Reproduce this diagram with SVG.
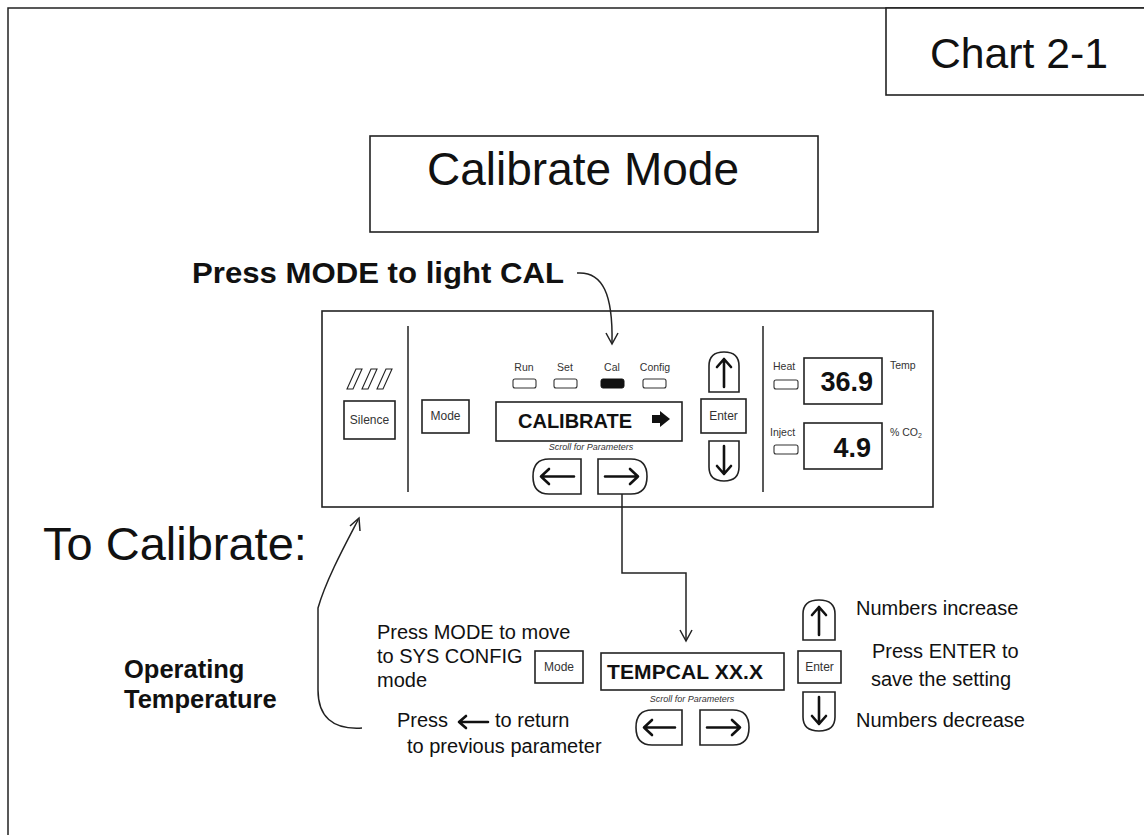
<svg xmlns="http://www.w3.org/2000/svg" width="1144" height="835" viewBox="0 0 1144 835">
<style>
  .ln{fill:none;stroke:#222;stroke-width:1.5}
  .bx{fill:#fff;stroke:#222;stroke-width:1.6}
  .thin{fill:none;stroke:#222;stroke-width:1.1}
  .arw{fill:none;stroke:#111;stroke-width:2.6;stroke-linecap:round;stroke-linejoin:round}
  .led{fill:#fff;stroke:#333;stroke-width:1.1}
  text{font-family:"Liberation Sans",Arial,sans-serif;fill:#111}
  .b{font-weight:bold}
  .sm{font-size:10.5px;fill:#333}
  .btn{font-size:12px;fill:#333;text-anchor:middle}
  .scr{font-size:9px;font-style:italic;text-anchor:middle;fill:#333}
  .note{font-size:20px}
</style>
<rect width="1144" height="835" fill="#fff"/>
<g id="frame">
  <path class="ln" d="M8,835 V8 H1144"/>
</g>
<g id="chart-label">
  <rect class="bx" x="886" y="8" width="262" height="87"/>
  <text x="1019" y="68" font-size="42" text-anchor="middle" textLength="178" lengthAdjust="spacingAndGlyphs">Chart 2-1</text>
</g>
<g id="title">
  <rect class="bx" x="370" y="136" width="448" height="96"/>
  <text x="583" y="185" font-size="46" text-anchor="middle">Calibrate Mode</text>
</g>
<g id="press-mode-label">
  <text class="b" x="192" y="283" font-size="30" textLength="372" lengthAdjust="spacingAndGlyphs">Press MODE to light CAL</text>
</g>
<g id="panel">
  <rect class="bx" x="322" y="311" width="611" height="196"/>
  <line class="ln" x1="408" y1="326" x2="408" y2="492"/>
  <line class="ln" x1="763" y1="326" x2="763" y2="492"/>
  <g id="silence">
    <polygon class="thin" points="347,389 356,369 362,369 353,389"/>
    <polygon class="thin" points="362,389 371,369 377,369 368,389"/>
    <polygon class="thin" points="377,389 386,369 392,369 383,389"/>
    <rect class="bx" x="344" y="401" width="51" height="38"/>
    <text class="btn" x="369.5" y="424">Silence</text>
  </g>
  <g id="mode-btn">
    <rect class="bx" x="422" y="400" width="47" height="33"/>
    <text class="btn" x="445.5" y="420">Mode</text>
  </g>
  <g id="leds">
    <text class="sm" x="524" y="371" text-anchor="middle">Run</text>
    <text class="sm" x="565" y="371" text-anchor="middle">Set</text>
    <text class="sm" x="612" y="371" text-anchor="middle">Cal</text>
    <text class="sm" x="655" y="371" text-anchor="middle">Config</text>
    <rect class="led" x="513" y="379" width="23" height="9" rx="2"/>
    <rect class="led" x="554" y="379" width="23" height="9" rx="2"/>
    <rect x="601" y="379" width="23" height="9" rx="2" fill="#111" stroke="#111"/>
    <rect class="led" x="643" y="379" width="23" height="9" rx="2"/>
  </g>
  <g id="display-calibrate">
    <rect class="bx" x="496" y="402" width="186" height="39"/>
    <text class="b" x="518" y="428" font-size="20">CALIBRATE</text>
    <polygon points="652,415 660,415 660,411 670,419 660,427 660,423 652,423" fill="#111"/>
    <text class="scr" x="591" y="450">Scroll for Parameters</text>
  </g>
  <g id="scroll-left">
    <path class="bx" d="M581,459 H549 Q533,459 533,476.5 Q533,494 549,494 H581 Z"/>
    <path class="arw" d="M574,476.5 H541 M549,469 L541,476.5 L549,484"/>
  </g>
  <g id="scroll-right">
    <path class="bx" d="M598,459 H631 Q647,459 647,476.5 Q647,494 631,494 H598 Z"/>
    <path class="arw" d="M605,476.5 H638 M630,469 L638,476.5 L630,484"/>
  </g>
  <g id="up-btn">
    <path class="bx" d="M709,392 V366 Q709,352 724,352 Q739,352 739,366 V392 Z"/>
    <path class="arw" d="M724,387 V359 M717,367 L724,359 L731,367"/>
  </g>
  <g id="enter-btn">
    <rect class="bx" x="701" y="399" width="45" height="34"/>
    <text class="btn" x="723.5" y="420">Enter</text>
  </g>
  <g id="down-btn">
    <path class="bx" d="M709,441 V467 Q709,481 724,481 Q739,481 739,467 V441 Z"/>
    <path class="arw" d="M724,446 V474 M717,466 L724,474 L731,466"/>
  </g>
  <g id="temp">
    <text class="sm" x="773" y="370">Heat</text>
    <rect class="led" x="774" y="380" width="24" height="9" rx="2"/>
    <rect class="bx" x="804" y="358" width="78" height="46"/>
    <text class="b" x="873" y="391" font-size="27" text-anchor="end">36.9</text>
    <text class="sm" x="890" y="369" font-size="10">Temp</text>
  </g>
  <g id="co2">
    <text class="sm" x="770" y="436">Inject</text>
    <rect class="led" x="774" y="445" width="24" height="9" rx="2"/>
    <rect class="bx" x="804" y="423" width="78" height="46"/>
    <text class="b" x="871" y="457" font-size="27" text-anchor="end">4.9</text>
    <text class="sm" x="890" y="436" font-size="10">% CO<tspan font-size="7" dy="2">2</tspan></text>
  </g>
</g>
<g id="connectors">
  <path class="ln" d="M577,273 C603,271 613,295 612,343"/>
  <path class="ln" d="M606,333 L612,344 L618,333"/>
  <path class="ln" d="M622,494 V573 H686 V641"/>
  <path class="ln" d="M680,630 L686,641 L692,630"/>
  <path class="ln" d="M362,728 C332,730 318,716 318,690 L318,608 C326,580 345,545 358,520"/>
  <path class="ln" d="M350,526 L359,518 L360,531"/>
</g>
<g id="to-calibrate">
  <text x="43" y="560" font-size="47">To Calibrate:</text>
</g>
<g id="operating-temp">
  <text class="b" x="124" y="678" font-size="25.5">Operating</text>
  <text class="b" x="124" y="708" font-size="25.5">Temperature</text>
</g>
<g id="mode-note">
  <text class="note" x="377" y="639">Press MODE to move</text>
  <text class="note" x="377" y="663">to SYS CONFIG</text>
  <text class="note" x="377" y="687">mode</text>
  <rect class="bx" x="535" y="651" width="48" height="32"/>
  <text class="btn" x="559" y="671">Mode</text>
</g>
<g id="display-tempcal">
  <rect class="bx" x="601" y="653" width="183" height="37"/>
  <text class="b" x="607" y="679" font-size="21" textLength="156" lengthAdjust="spacing">TEMPCAL XX.X</text>
  <text class="scr" x="692" y="702">Scroll for Parameters</text>
  <path class="bx" d="M682,710 H652 Q636,710 636,727.5 Q636,745 652,745 H682 Z"/>
  <path class="arw" d="M675,727.5 H644 M652,720 L644,727.5 L652,735"/>
  <path class="bx" d="M700,710 H733 Q749,710 749,727.5 Q749,745 733,745 H700 Z"/>
  <path class="arw" d="M707,727.5 H740 M732,720 L740,727.5 L732,735"/>
</g>
<g id="return-note">
  <text class="note" x="397" y="727">Press</text>
  <path class="arw" d="M488,722 H459 M466,716 L459,722 L466,728" stroke-width="2.4"/>
  <text class="note" x="495" y="727">to return</text>
  <text class="note" x="407" y="753">to previous parameter</text>
</g>
<g id="adjust">
  <path class="bx" d="M803,640 V614 Q803,600 819,600 Q835,600 835,614 V640 Z"/>
  <path class="arw" d="M819,635 V607 M812,615 L819,607 L826,615"/>
  <rect class="bx" x="798" y="651" width="43" height="32"/>
  <text class="btn" x="819.5" y="671">Enter</text>
  <path class="bx" d="M803,692 V717 Q803,731 819,731 Q835,731 835,717 V692 Z"/>
  <path class="arw" d="M819,697 V724 M812,716 L819,724 L826,716"/>
  <text class="note" x="856" y="615">Numbers increase</text>
  <text class="note" x="872" y="658">Press ENTER to</text>
  <text class="note" x="871" y="686">save the setting</text>
  <text class="note" x="856" y="727">Numbers decrease</text>
</g>
</svg>
